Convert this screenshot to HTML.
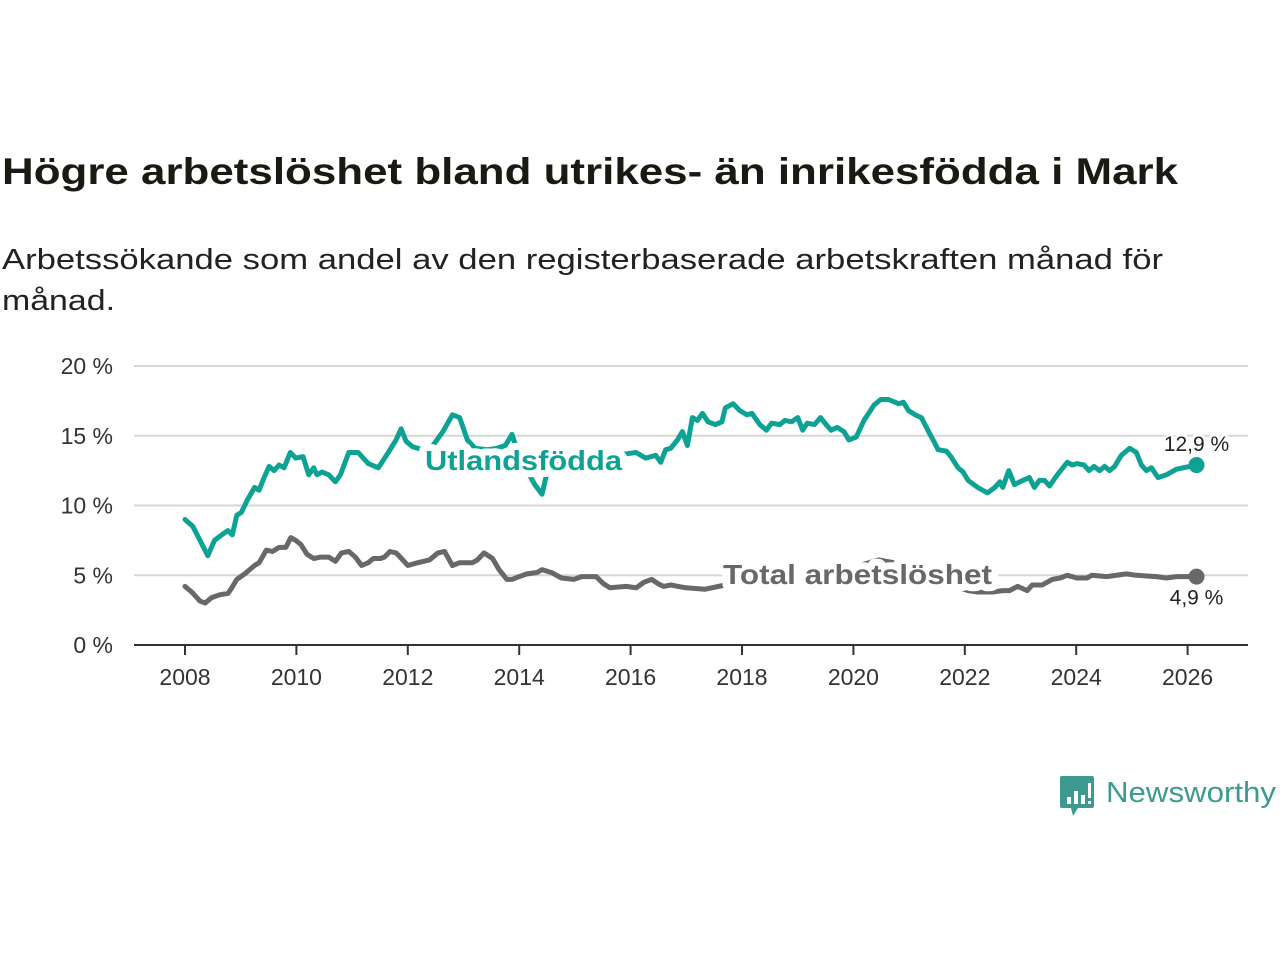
<!DOCTYPE html>
<html><head><meta charset="utf-8"><style>
html,body{margin:0;padding:0;background:#fff;}
svg{display:block;font-family:"Liberation Sans",sans-serif;}
</style></head><body>
<svg id="chart" width="1280" height="960" viewBox="0 0 1280 960" xmlns="http://www.w3.org/2000/svg">
<text x="2" y="184" font-size="37" font-weight="bold" fill="#1a1a12" textLength="1176" lengthAdjust="spacingAndGlyphs">Högre arbetslöshet bland utrikes- än inrikesfödda i Mark</text>
<text x="2" y="269" font-size="29" fill="#222" textLength="1161" lengthAdjust="spacingAndGlyphs">Arbetssökande som andel av den registerbaserade arbetskraften månad för</text>
<text x="2" y="310" font-size="29" fill="#222" textLength="113" lengthAdjust="spacingAndGlyphs">månad.</text>
<g id="grid"></g>
<g id="xaxis"></g>
<g id="series"></g>
<g id="labels"></g>
<g>
<path d="M1062 776 h30 a2 2 0 0 1 2 2 v28 a2 2 0 0 1 -2 2 h-14 l-5 8 l-2 -8 h-9 a2 2 0 0 1 -2 -2 v-28 a2 2 0 0 1 2 -2z" fill="#3d9a8e"/>
<rect x="1067" y="797" width="4" height="7" fill="#fff"/>
<rect x="1074" y="791" width="4" height="13" fill="#fff"/>
<rect x="1081" y="795" width="4" height="9" fill="#fff"/>
<rect x="1088" y="783" width="3" height="15" fill="#fff"/>
<rect x="1088" y="801" width="3" height="3" fill="#fff"/>
<text x="1106" y="802" font-size="29" fill="#3d9a8e" textLength="170" lengthAdjust="spacingAndGlyphs">Newsworthy</text>
</g>
</svg>
<script>
const yTicks = [0, 5, 10, 15, 20];
const yTickLabels = ["0 %", "5 %", "10 %", "15 %", "20 %"];
const xTicks = [2008, 2010, 2012, 2014, 2016, 2018, 2020, 2022, 2024, 2026];
const utlDates = [2008.0,2008.14,2008.27,2008.41,2008.53,2008.66,2008.77,2008.85,2008.93,2009.01,2009.12,2009.25,2009.33,2009.42,2009.51,2009.60,2009.69,2009.78,2009.89,2009.99,2010.12,2010.22,2010.31,2010.37,2010.46,2010.58,2010.70,2010.79,2010.94,2011.11,2011.29,2011.47,2011.65,2011.79,2011.88,2011.97,2012.09,2012.27,2012.45,2012.63,2012.80,2012.93,2013.07,2013.21,2013.43,2013.60,2013.75,2013.87,2013.96,2014.14,2014.28,2014.41,2014.49,2014.67,2014.94,2015.21,2015.47,2015.74,2016.10,2016.27,2016.45,2016.54,2016.63,2016.72,2016.84,2016.93,2017.02,2017.11,2017.20,2017.29,2017.39,2017.52,2017.64,2017.70,2017.84,2017.96,2018.09,2018.18,2018.32,2018.44,2018.53,2018.68,2018.77,2018.89,2019.00,2019.09,2019.17,2019.30,2019.41,2019.51,2019.60,2019.71,2019.83,2019.92,2020.05,2020.19,2020.37,2020.49,2020.63,2020.81,2020.90,2020.99,2021.11,2021.22,2021.35,2021.43,2021.52,2021.67,2021.75,2021.88,2021.97,2022.06,2022.23,2022.41,2022.54,2022.63,2022.68,2022.79,2022.89,2023.04,2023.16,2023.25,2023.34,2023.43,2023.52,2023.66,2023.84,2023.93,2024.01,2024.14,2024.23,2024.32,2024.42,2024.51,2024.60,2024.69,2024.81,2024.96,2025.08,2025.17,2025.26,2025.35,2025.47,2025.62,2025.80,2026.16];
const utlValues = [9.0,8.5,7.5,6.4,7.5,7.9,8.2,7.9,9.3,9.5,10.4,11.3,11.1,12.0,12.8,12.5,12.9,12.7,13.8,13.4,13.5,12.2,12.7,12.2,12.4,12.2,11.7,12.2,13.8,13.8,13.0,12.7,13.8,14.7,15.5,14.6,14.2,14.0,14.3,15.3,16.5,16.3,14.7,14.1,14.0,14.1,14.3,15.1,14.0,12.5,11.5,10.8,12.2,13.1,13.4,13.6,13.4,13.6,13.8,13.4,13.6,13.1,14.0,14.1,14.7,15.3,14.3,16.3,16.1,16.6,16.0,15.8,16.0,17.0,17.3,16.8,16.5,16.6,15.8,15.4,15.9,15.8,16.1,16.0,16.3,15.4,15.9,15.8,16.3,15.8,15.4,15.6,15.3,14.7,14.9,16.1,17.2,17.6,17.6,17.3,17.4,16.8,16.5,16.3,15.3,14.7,14.0,13.9,13.5,12.7,12.4,11.8,11.3,10.9,11.3,11.7,11.3,12.5,11.5,11.8,12.0,11.3,11.8,11.8,11.4,12.2,13.1,12.9,13.0,12.9,12.5,12.8,12.5,12.8,12.5,12.8,13.6,14.1,13.8,12.9,12.5,12.7,12.0,12.2,12.6,12.9];
const totDates = [2008.0,2008.12,2008.27,2008.36,2008.48,2008.62,2008.77,2008.84,2008.93,2009.07,2009.25,2009.33,2009.46,2009.57,2009.69,2009.81,2009.90,2009.99,2010.08,2010.19,2010.31,2010.44,2010.58,2010.70,2010.81,2010.94,2011.06,2011.17,2011.29,2011.38,2011.51,2011.58,2011.68,2011.79,2011.91,2012.00,2012.18,2012.39,2012.54,2012.66,2012.80,2012.93,2013.04,2013.16,2013.25,2013.37,2013.52,2013.64,2013.78,2013.87,2014.00,2014.14,2014.32,2014.41,2014.58,2014.76,2014.98,2015.12,2015.38,2015.51,2015.63,2015.92,2016.10,2016.24,2016.38,2016.49,2016.59,2016.72,2016.99,2017.34,2017.70,2018.23,2018.94,2019.66,2020.19,2020.46,2020.72,2021.08,2021.61,2022.06,2022.23,2022.50,2022.68,2022.80,2022.95,2023.12,2023.21,2023.39,2023.57,2023.71,2023.84,2024.01,2024.19,2024.28,2024.55,2024.90,2025.08,2025.44,2025.62,2025.80,2026.16];
const totValues = [4.2,3.8,3.15,3.0,3.4,3.6,3.7,4.1,4.7,5.1,5.7,5.9,6.8,6.7,7.0,7.0,7.7,7.5,7.2,6.5,6.2,6.3,6.3,6.0,6.6,6.7,6.3,5.7,5.9,6.2,6.2,6.3,6.7,6.6,6.1,5.7,5.9,6.1,6.6,6.7,5.7,5.9,5.9,5.9,6.1,6.6,6.2,5.4,4.7,4.7,4.9,5.1,5.2,5.4,5.2,4.8,4.7,4.9,4.9,4.4,4.1,4.2,4.1,4.5,4.7,4.4,4.2,4.3,4.1,4.0,4.3,4.4,4.6,5.0,5.8,6.1,5.9,5.3,4.5,3.9,3.8,3.8,3.9,3.9,4.2,3.9,4.3,4.3,4.7,4.8,5.0,4.8,4.8,5.0,4.9,5.1,5.0,4.9,4.8,4.9,4.9];
const lastLabels = ["12,9 %", "4,9 %"];

const NS = "http://www.w3.org/2000/svg";
const X0 = 185, XPY = 55.7, Y0 = 645, YPU = 13.95;
function xScale(t){ return X0 + (t - 2008) * XPY; }
function yScale(v){ return Y0 - v * YPU; }
function mk(tag, attrs, parent){ const e = document.createElementNS(NS, tag); for (const k in attrs) e.setAttribute(k, attrs[k]); parent.appendChild(e); return e; }

const grid = document.getElementById('grid');
yTicks.forEach((v, i) => {
  if (v !== 0) {
    const l = mk('line', {x1:134, x2:1248, y1:yScale(v), y2:yScale(v), stroke:'#d6d6d6', 'stroke-width':2}, grid);
    
    
  }
  const t = mk('text', {x:113, y:yScale(v)+8, 'text-anchor':'end', 'font-size':23, fill:'#333'}, grid);
  t.textContent = yTickLabels[i];
  
  
});
const xa = document.getElementById('xaxis');
const al = mk('line', {x1:134, x2:1248, y1:Y0, y2:Y0, stroke:'#333', 'stroke-width':2}, xa);


xTicks.forEach(yr => {
  const tk = mk('line', {x1:xScale(yr), x2:xScale(yr), y1:Y0, y2:Y0+10, stroke:'#333', 'stroke-width':2}, xa);
  
  
  const t = mk('text', {x:xScale(yr), y:Y0+40, 'text-anchor':'middle', 'font-size':23, fill:'#333'}, xa);
  t.textContent = yr;
  
  
});

const ser = document.getElementById('series');
function drawLine(dates, vals, color, name){
  const d = dates.map((t, i) => (i ? 'L' : 'M') + xScale(t).toFixed(1) + ' ' + yScale(vals[i]).toFixed(1)).join(' ');
  const p = mk('path', {d:d, fill:'none', stroke:color, 'stroke-width':5, 'stroke-linejoin':'round', 'stroke-linecap':'round'}, ser);
  
  
  const n = dates.length - 1;
  const c = mk('circle', {cx:xScale(dates[n]), cy:yScale(vals[n]), r:8, fill:color}, ser);
  
  
}
drawLine(totDates, totValues, '#67676c', 'total');
drawLine(utlDates, utlValues, '#0ea294', 'utlandsfodda');

const lab = document.getElementById('labels');
function label(x, y, txt, color, name, size, bold, anchor, len, halo){
  const t = mk('text', {x:x, y:y, 'font-size':size, 'font-weight':bold ? 'bold' : 'normal', fill:color, stroke:'#fff', 'stroke-width':halo, 'paint-order':'stroke', 'stroke-linejoin':'round', 'text-anchor':anchor}, lab);
  if (len) { t.setAttribute('textLength', len); t.setAttribute('lengthAdjust', 'spacingAndGlyphs'); }
  t.textContent = txt;
  
  
}
label(425, 470, 'Utlandsfödda', '#0ea294', 'series-label-utlandsfodda', 28, true, 'start', 197, 14);
label(723, 584, 'Total arbetslöshet', '#67676c', 'series-label-total', 28, true, 'start', 269, 14);
const nU = utlDates.length - 1, nT = totDates.length - 1;
label(xScale(utlDates[nU]), yScale(utlValues[nU]) - 14, lastLabels[0], '#222', 'end-label-utlandsfodda', 21, false, 'middle', 0, 6);
label(xScale(totDates[nT]), yScale(totValues[nT]) + 28, lastLabels[1], '#222', 'end-label-total', 21, false, 'middle', 0, 6);
</script>
</body></html>
